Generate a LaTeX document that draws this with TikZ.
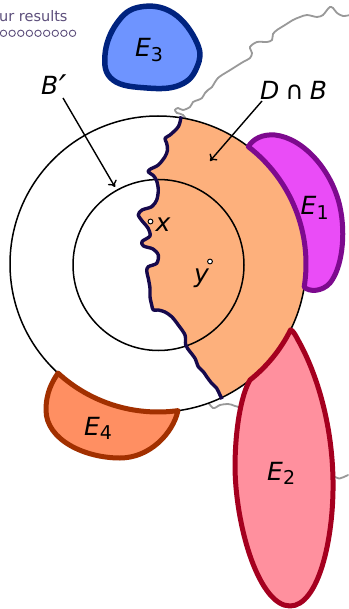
\documentclass[tikz,border=0pt]{standalone}
\usepackage{fontspec}
\setmainfont{DejaVu Sans}
\usetikzlibrary{arrows.meta}
\definecolor{orng}{HTML}{FDB07C}
\definecolor{eonefill}{HTML}{EA4CF7}
\definecolor{eonedraw}{HTML}{7D0A8E}
\definecolor{etwofill}{HTML}{FF909E}
\definecolor{etwodraw}{HTML}{A5001F}
\definecolor{ethreefill}{HTML}{6E94FF}
\definecolor{ethreedraw}{HTML}{00237F}
\definecolor{efourfill}{HTML}{FF8F62}
\definecolor{efourdraw}{HTML}{A23000}
\definecolor{wignavy}{HTML}{16094C}
\definecolor{graywig}{HTML}{999999}
\definecolor{hdr}{HTML}{5D4F7C}
\newcommand{\Esub}[2]{\textit{#1}\raisebox{-4.5pt}{\fontsize{19}{21}\selectfont #2}}
\begin{document}
\begin{tikzpicture}[x=1pt,y=-1pt,
  lab/.style={font=\fontsize{25}{30}\selectfont, inner sep=0pt, anchor=base west},
  arr/.style={line width=1.4pt, -{To[length=6pt,width=10pt]}},
  region/.style={line width=5pt, line join=round},
  dotmark/.style={circle, draw, fill=white, line width=1pt, inner sep=0pt, minimum size=4.8pt}]
\useasboundingbox (0,0) rectangle (348,609);
\fill[white] (0,0) rectangle (348,609);

% header fragment
\node[anchor=base west, text=hdr, font=\fontsize{14.5}{16}\selectfont, inner sep=0pt] (hdrtxt) at (-1,22) {ur results};
\foreach \i in {0,...,8}{
  \draw[hdr, line width=0.9pt] (3.5+8.63*\i,33.3) circle (3.2);
}

% gray wiggly curve (behind the disk and E2)
\draw[graywig, line width=1.8pt, line cap=round] plot[smooth, tension=0.5] coordinates {
 (350,15) (343,16) (337,13) (333,8) (330,7) (327,10) (323,15) (317,17) (307,15) (300,17)
 (293,20) (285,25) (277,30) (273,34) (272,40) (267,42) (257,42) (250,47) (252,53) (250,58)
 (243,62) (235,67) (227,72) (222,75) (218,78) (215,82) (212,87) (208,90) (205,93) (202,98)
 (198,100) (193,102) (190,107) (183,110) (178,108) (175,110) (177,113) (183,115) (190,125)};
\draw[graywig, line width=1.8pt, line cap=round] plot[smooth, tension=0.5] coordinates {
 (205,398) (213,408) (220,405) (228,404) (235,406) (245,412) (300,460) (335,477) (341,478) (348,475)};

% disk
\fill[white] (158,264) circle (148);
\begin{scope}
  \clip (158,264) circle (148);
  \fill[orng] plot[smooth, tension=0.5] coordinates {
 (182,105) (181,117) (178.3,126.7) (170,135) (165,138.3) (166.7,143.3) (167.5,150) (165,156.7)
 (158.3,165) (150,169.3) (148.3,172) (153.3,175.5) (156.7,181) (158.3,190) (156.7,200)
 (151.7,206.7) (142,210) (138.3,215) (143,222) (148,228) (150,236) (142,241.5) (143.5,246)
 (153,249) (158.3,255) (156.7,263.3) (148.3,266.7) (146.7,271) (148.3,278.3) (150,288.3)
 (150,296.7) (151.7,305) (153.3,310) (158.3,310) (165,312) (171.7,316.7) (178.3,325) (185,335)
 (185.7,345) (190,351.7) (195,358.3) (198.3,366.7) (203.3,371.7) (206.7,376.7) (211.7,383.3)
 (216.7,388.3) (220,395) (222.5,400) (225,408)} -- (330,480) -- (360,264) -- (330,40) -- (185,40) -- cycle;
\end{scope}
\draw[line width=1.5pt] (158,264) circle (148);
\draw[line width=1.5pt] (158.5,265) circle (85.5);
\begin{scope}
  \clip (158,264) circle (149.5);
  \draw[wignavy, line width=3.4pt, line join=round] plot[smooth, tension=0.5] coordinates {
 (182,105) (181,117) (178.3,126.7) (170,135) (165,138.3) (166.7,143.3) (167.5,150) (165,156.7)
 (158.3,165) (150,169.3) (148.3,172) (153.3,175.5) (156.7,181) (158.3,190) (156.7,200)
 (151.7,206.7) (142,210) (138.3,215) (143,222) (148,228) (150,236) (142,241.5) (143.5,246)
 (153,249) (158.3,255) (156.7,263.3) (148.3,266.7) (146.7,271) (148.3,278.3) (150,288.3)
 (150,296.7) (151.7,305) (153.3,310) (158.3,310) (165,312) (171.7,316.7) (178.3,325) (185,335)
 (185.7,345) (190,351.7) (195,358.3) (198.3,366.7) (203.3,371.7) (206.7,376.7) (211.7,383.3)
 (216.7,388.3) (220,395) (222.5,400) (225,408)};
\end{scope}

% E1
\draw[region, draw=eonedraw, fill=eonefill] (248.3,146.7) arc[start angle=-52.4, end angle=9, radius=148]
  .. controls (309,292) and (322,292) .. (330,283)
  .. controls (342,268) and (346,235) .. (340,207)
  .. controls (332,170) and (303,138) .. (275,135)
  .. controls (262,134) and (253,139) .. (248.3,146.7) -- cycle;
% E2
\draw[region, draw=etwodraw, fill=etwofill] (290.6,329.8) arc[start angle=26.4, end angle=51.6, radius=148]
  .. controls (241,395) and (235,430) .. (235,468)
  .. controls (236,530) and (260,606) .. (290,606)
  .. controls (318,606) and (334,540) .. (333,480)
  .. controls (332,420) and (315,370) .. (298,340)
  .. controls (295,334) and (293,331) .. (290.6,329.8) -- cycle;
% E3
\draw[ethreedraw, fill=ethreefill, line width=5.5pt] plot[smooth cycle, tension=0.7] coordinates {
 (105,55) (117,23) (140,7) (173,13) (197,43) (197,67) (180,85) (147,88) (113,80)};
% E4
\draw[region, draw=efourdraw, fill=efourfill] (58,373.1) arc[start angle=132.5, end angle=82.25, radius=148]
  .. controls (173,433) and (150,458) .. (120,458)
  .. controls (85,458) and (46,440) .. (46,410)
  .. controls (46,393) and (52,382) .. (58,373.1) -- cycle;

% labels
\node[lab] (lE1) at (300.5,215) {\Esub{E}{1}};
\node[lab] (lE2) at (267,480) {\Esub{E}{2}};
\node[lab] (lE3) at (135,56.7) {\Esub{E}{3}};
\node[lab] (lE4) at (84,435) {\Esub{E}{4}};
\node[lab] (lBp) at (41,95) {\textit{B}\kern0.5pt\raisebox{-5pt}{\fontsize{34}{36}\selectfont\textit{′}}};
\node[lab] (lDB) at (260,100) {\textit{D}\kern6pt∩\kern6pt\textit{B}};
\node[lab] (lx) at (155.5,231.7) {\textit{x}};
\node[lab] (ly) at (194,282) {\textit{y}};
\node[dotmark] (dx) at (150.5,221.5) {};
\node[dotmark] (dy) at (210,261.5) {};

% arrows
\coordinate (bpfrom) at (63,98);
\coordinate (bpto) at (115,187);
\coordinate (dbfrom) at (262,101);
\coordinate (dbto) at (210,161);
\draw[arr] (bpfrom) -- (bpto);
\draw[arr] (dbfrom) -- (dbto);
\end{tikzpicture}
\end{document}
